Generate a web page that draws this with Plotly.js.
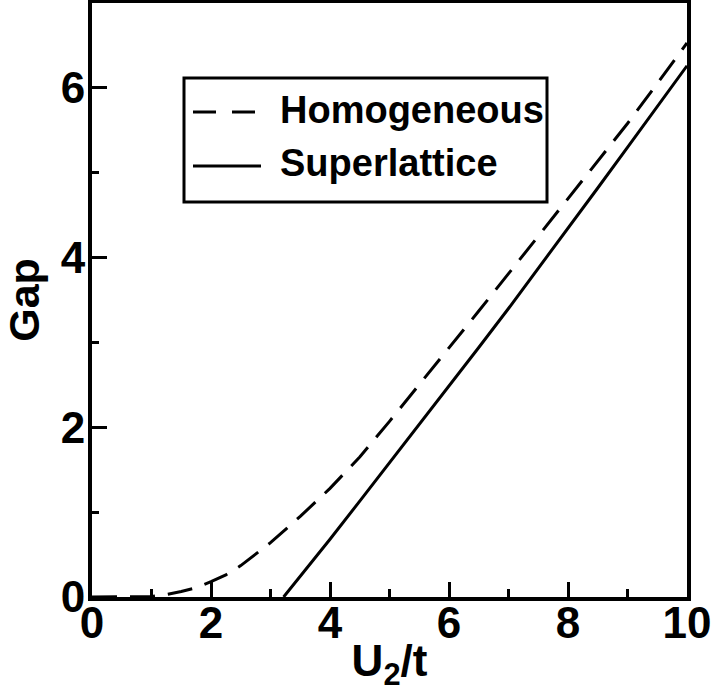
<!DOCTYPE html>
<html>
<head>
<meta charset="utf-8">
<script src="https://cdn.plot.ly/plotly-3.0.1.min.js"></script>
<style>html,body{margin:0;padding:0;background:#fff;}#chart{width:713px;height:693px;}</style>
</head>
<body>
<div id="chart"></div>
<script>
// Data
const seriesNames = ["Homogeneous", "Superlattice"];
const homoU = [0, 0.5, 1.0, 1.25, 1.5, 1.75, 2.0, 2.25, 2.5, 3.0, 3.5, 4.0, 4.5, 5.0, 5.5, 6.0, 6.5, 7.0, 7.5, 8.0, 8.5, 9.0, 9.5, 10];
const homoGap = [0, 0, 0.005, 0.03, 0.065, 0.11, 0.18, 0.26, 0.37, 0.64, 0.95, 1.28, 1.65, 2.07, 2.5, 2.94, 3.37, 3.81, 4.25, 4.69, 5.13, 5.58, 6.05, 6.53];
const superU = [3.22, 3.5, 4.0, 4.5, 5.0, 5.5, 6.0, 6.5, 7.0, 7.5, 8.0, 8.5, 9.0, 9.5, 10];
const superGap = [0, 0.24, 0.68, 1.13, 1.58, 2.03, 2.48, 2.94, 3.4, 3.87, 4.35, 4.82, 5.3, 5.78, 6.26];
const xTickVals = [0, 2, 4, 6, 8, 10];
const yTickVals = [0, 2, 4, 6];

const FONT = "Liberation Sans, Arial, Helvetica, sans-serif";
const W = 713, H = 693;
const M = {l: 92, r: 26, t: 3, b: 96};
const pw = W - M.l - M.r, ph = H - M.t - M.b;
const px = v => (v - M.l) / pw;
const py = v => (H - M.b - v) / ph;

const dashCurve = "25px,13px";

const traces = [
  {x: homoU, y: homoGap, name: seriesNames[0], mode: "lines", showlegend: false,
   line: {color: "black", width: 3, dash: dashCurve}},
  {x: superU, y: superGap, name: seriesNames[1], mode: "lines", showlegend: false,
   line: {color: "black", width: 3}}
];

const axisCommon = {
  showgrid: false, zeroline: false, showline: true, linecolor: "black", linewidth: 4,
  mirror: true, ticks: "inside", ticklen: 15, tickwidth: 3, tickcolor: "black",
  tickfont: {family: FONT, size: 44, color: "black", weight: "bold"},
  fixedrange: true
};

const layout = {
  width: W, height: H,
  margin: M,
  paper_bgcolor: "white", plot_bgcolor: "white",
  showlegend: false,
  xaxis: Object.assign({}, axisCommon, {
    range: [0, 10], tickvals: xTickVals, ticktext: xTickVals.map(String),
    ticklabelstandoff: -16,
    minor: {ticks: "inside", dtick: 1, ticklen: 8, tickwidth: 3, tickcolor: "black", showgrid: false},
    title: {text: "U<sub>2</sub>/t", font: {family: FONT, size: 44, color: "black", weight: "bold"}, standoff: 0},
    automargin: false
  }),
  yaxis: Object.assign({}, axisCommon, {
    range: [0, 7], tickvals: yTickVals, ticktext: yTickVals.map(String),
    ticklabelstandoff: -6,
    minor: {ticks: "inside", dtick: 1, ticklen: 7, tickwidth: 3, tickcolor: "black", showgrid: false},
    title: {text: "Gap", font: {family: FONT, size: 43, color: "black", weight: "bold"}, standoff: 14},
    automargin: false
  }),
  shapes: [
    {type: "rect", xref: "paper", yref: "paper", x0: px(184), x1: px(547), y0: py(202), y1: py(78),
     line: {color: "black", width: 3}, fillcolor: "white", layer: "above"},
    {type: "line", xref: "paper", yref: "paper", x0: px(193), x1: px(260), y0: py(112), y1: py(112),
     line: {color: "black", width: 3, dash: "23px,16px"}, layer: "above"},
    {type: "line", xref: "paper", yref: "paper", x0: px(193), x1: px(261), y0: py(166), y1: py(166),
     line: {color: "black", width: 3}, layer: "above"}
  ],
  annotations: [
    {xref: "paper", yref: "paper", x: px(278), y: py(110), xanchor: "left", yanchor: "middle",
     text: seriesNames[0], showarrow: false, font: {family: FONT, size: 38, color: "black", weight: "bold"}},
    {xref: "paper", yref: "paper", x: px(278), y: py(163), xanchor: "left", yanchor: "middle",
     text: seriesNames[1], showarrow: false, font: {family: FONT, size: 38, color: "black", weight: "bold"}}
  ]
};

Plotly.newPlot("chart", traces, layout, {displayModeBar: false, staticPlot: true});
</script>
</body>
</html>
